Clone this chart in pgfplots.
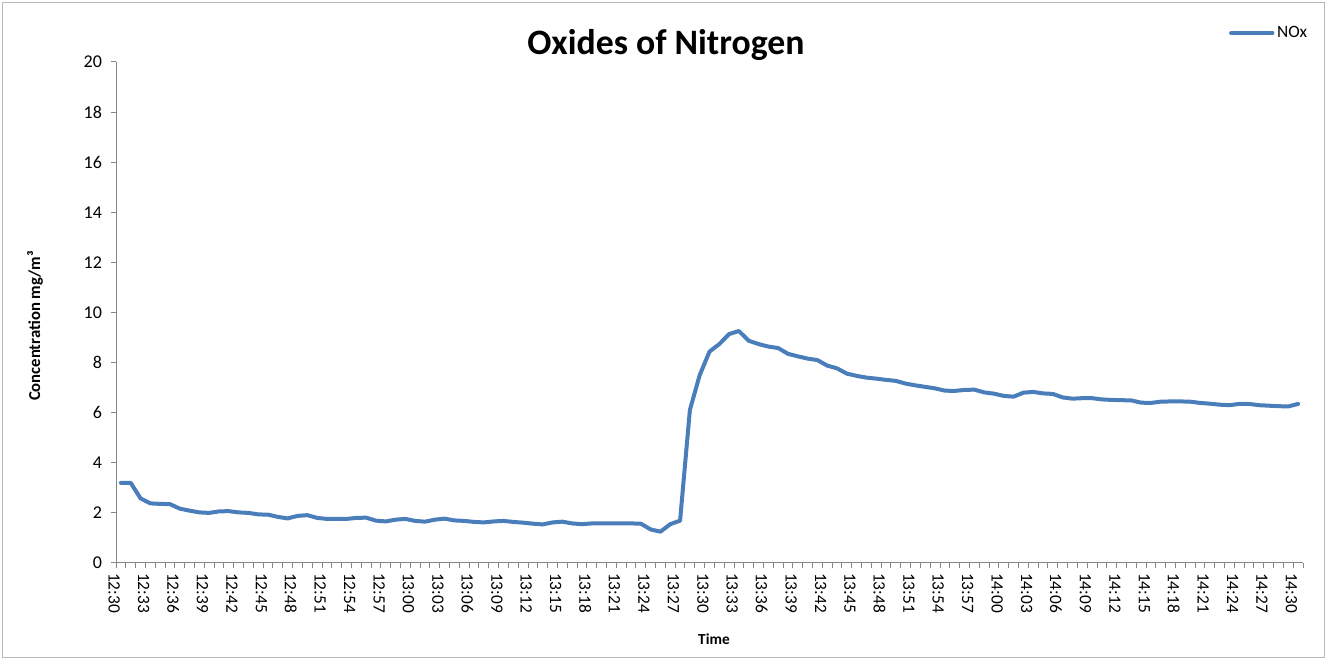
\documentclass[border=0pt]{standalone}
\usepackage{fontspec}
\setmainfont{Carlito}
\usepackage{pgfplots}
\pgfplotsset{compat=1.18}
\usepackage{pgfplotstable}
\definecolor{noxblue}{HTML}{4A7EBB}
\definecolor{axgray}{HTML}{868686}
\pgfplotstableread{
i v
0 3.20
1 3.20
2 2.58
3 2.38
4 2.36
5 2.35
6 2.17
7 2.09
8 2.02
9 2.00
10 2.06
11 2.07
12 2.02
13 2.00
14 1.94
15 1.93
16 1.84
17 1.78
18 1.88
19 1.91
20 1.80
21 1.76
22 1.76
23 1.76
24 1.80
25 1.81
26 1.69
27 1.66
28 1.73
29 1.76
30 1.68
31 1.65
32 1.73
33 1.77
34 1.70
35 1.68
36 1.64
37 1.62
38 1.66
39 1.68
40 1.64
41 1.61
42 1.57
43 1.54
44 1.62
45 1.65
46 1.58
47 1.55
48 1.58
49 1.58
50 1.58
51 1.58
52 1.58
53 1.57
54 1.34
55 1.25
56 1.55
57 1.69
58 6.11
59 7.50
60 8.44
61 8.74
62 9.14
63 9.26
64 8.87
65 8.74
66 8.64
67 8.58
68 8.35
69 8.25
70 8.16
71 8.10
72 7.88
73 7.77
74 7.56
75 7.47
76 7.40
77 7.36
78 7.31
79 7.27
80 7.16
81 7.09
82 7.03
83 6.97
84 6.88
85 6.87
86 6.91
87 6.92
88 6.81
89 6.76
90 6.67
91 6.64
92 6.80
93 6.83
94 6.77
95 6.75
96 6.61
97 6.56
98 6.58
99 6.58
100 6.53
101 6.51
102 6.50
103 6.49
104 6.40
105 6.39
106 6.44
107 6.45
108 6.45
109 6.44
110 6.39
111 6.36
112 6.32
113 6.30
114 6.35
115 6.35
116 6.30
117 6.28
118 6.26
119 6.25
120 6.35
}\noxdata
\begin{document}
\begin{tikzpicture}
\useasboundingbox (0pt,0pt) rectangle (995.25pt,495pt);
\draw[gray!55, line width=0.75pt] (2pt,2pt) rectangle (993.25pt,493pt);
\begin{axis}[
  at={(87pt,72.75pt)}, anchor=south west,
  scale only axis, width=890.25pt, height=375.75pt,
  xmin=-0.5, xmax=120.5, ymin=0, ymax=20,
  axis x line=bottom, axis y line=left,
  axis line style={-, axgray, line width=0.75pt},
  tick align=outside,
  xtick={0,3,...,120},
  xticklabels={12:30,12:33,12:36,12:39,12:42,12:45,12:48,12:51,12:54,12:57,13:00,13:03,13:06,13:09,13:12,13:15,13:18,13:21,13:24,13:27,13:30,13:33,13:36,13:39,13:42,13:45,13:48,13:51,13:54,13:57,14:00,14:03,14:06,14:09,14:12,14:15,14:18,14:21,14:24,14:27,14:30},
  minor xtick={-0.5,0.5,...,120.5},
  x tick style={draw=none},
  minor x tick style={draw=axgray, line width=0.75pt},
  minor tick length=4pt,
  ytick={0,2,...,20},
  y tick style={axgray, line width=0.75pt},
  major tick length=4pt,
  xticklabel style={rotate=-90, anchor=west, font=\fontsize{13}{15}\selectfont, yshift=-5pt},
  yticklabel style={font=\fontsize{13.5}{15}\selectfont, xshift=-3pt},
  /pgf/number format/assume math mode=true,
  legend style={draw=none, fill=none, at={(1.006,1.058)}, anchor=east, font=\fontsize{13}{15}\selectfont, inner sep=0pt},
  legend image code/.code={\draw[#1] (0pt,0pt) -- (31pt,0pt);},
  clip=false,
]
\addplot[noxblue, line width=3pt, line join=round, line cap=round] table[x=i, y=v] {\noxdata};
\addlegendentry{NOx}
\end{axis}
\node[font=\bfseries\fontsize{26.8}{30}\selectfont] at (499.5pt,461.5pt) {Oxides of Nitrogen};
\node[font=\bfseries\fontsize{11.5}{13}\selectfont] at (535.5pt,15.75pt) {Time};
\node[font=\bfseries\fontsize{12.5}{14}\selectfont, rotate=90] at (26.25pt,250.5pt) {Concentration mg/m³};
\end{tikzpicture}
\end{document}
